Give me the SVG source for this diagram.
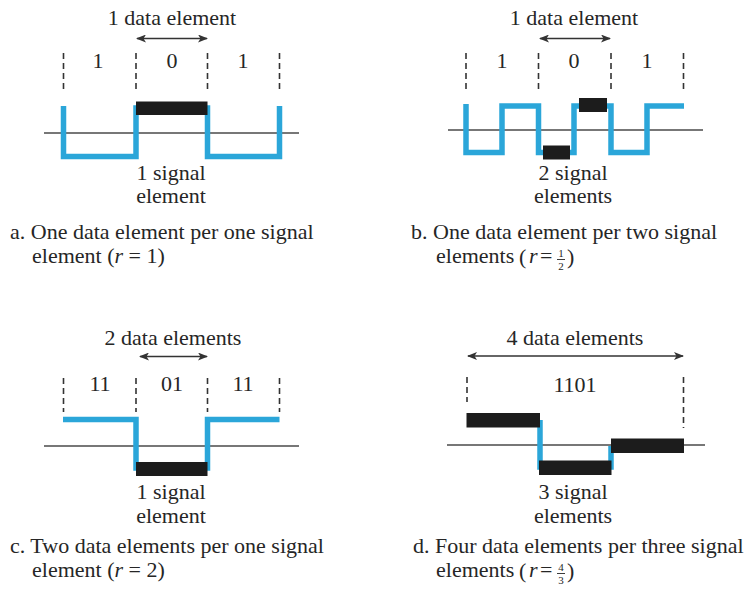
<svg xmlns="http://www.w3.org/2000/svg" width="751" height="595" viewBox="0 0 751 595">
<style>
text{font-family:"Liberation Serif","Times New Roman",serif;font-size:22px;fill:#262626}
.c{text-anchor:middle}
.fr{font-size:11px;text-anchor:middle}
.it{font-style:italic}
.axis{stroke:#4a4a4a;stroke-width:1.6;fill:none}
.dash{stroke:#333;stroke-width:1.6;stroke-dasharray:6 4;fill:none}
.sig{stroke:#2ba6d9;stroke-width:5.5;fill:none;stroke-linejoin:miter;stroke-linecap:butt}
.bar{fill:#1c1c1c}
.arr{stroke:#333;stroke-width:1.3;fill:none;marker-start:url(#ah);marker-end:url(#ah)}
.fb{stroke:#262626;stroke-width:0.9}
</style>
<defs>
<marker id="ah" viewBox="0 0 10 8" refX="9" refY="4" markerWidth="10" markerHeight="8" markerUnits="userSpaceOnUse" orient="auto-start-reverse">
<path d="M0,0 L10,4 L0,8 L2.5,4 Z" fill="#333"/>
</marker>
</defs>
<rect width="751" height="595" fill="#fff"/>

<g id="panel-a">
<text class="c" x="172" y="25">1 data element</text>
<text class="c" x="98" y="68">1</text>
<text class="c" x="172" y="68">0</text>
<text class="c" x="243" y="68">1</text>
<line class="axis" x1="44" y1="133" x2="299" y2="133"/>
<path class="sig" d="M63.5,106 V156.5 H136 V108 H207.5 V156.5 H279.5 V106"/>
<rect class="bar" x="136" y="101.5" width="71.5" height="13.5"/>
<text class="c" x="171" y="180">1 signal</text>
<text class="c" x="171" y="203">element</text>
<text x="10" y="239">a. One data element per one signal</text>
<text x="32" y="263">element (<tspan class="it">r</tspan> = 1)</text>
</g>

<g id="panel-b">
<text class="c" x="574" y="25">1 data element</text>
<text class="c" x="502" y="68">1</text>
<text class="c" x="574" y="68">0</text>
<text class="c" x="647" y="68">1</text>
<line class="axis" x1="448" y1="130" x2="703" y2="130"/>
<path class="sig" d="M466,104 V152.5 H502 V106 H538.5 V152.5 H574 V106 H611 V152.5 H647 V106 H684"/>
<rect class="bar" x="543" y="145.5" width="27" height="14"/>
<rect class="bar" x="579" y="98" width="28" height="14"/>
<text class="c" x="573" y="180">2 signal</text>
<text class="c" x="573" y="203">elements</text>
<text x="411" y="239">b. One data element per two signal</text>
<text x="436" y="263">elements</text>
<text x="519" y="264" font-size="24">(</text>
<text class="it" x="529" y="263">r</text>
<text x="540" y="263">=</text>
<text class="fr" x="561" y="256.5">1</text>
<line class="fb" x1="557" y1="259.5" x2="565" y2="259.5"/>
<text class="fr" x="561" y="269.5">2</text>
<text x="567" y="264" font-size="24">)</text>
</g>

<g id="panel-c">
<text class="c" x="173" y="345">2 data elements</text>
<text class="c" x="100" y="391">11</text>
<text class="c" x="172" y="391">01</text>
<text class="c" x="243" y="391">11</text>
<line class="axis" x1="44" y1="446" x2="299" y2="446"/>
<path class="sig" d="M63,419.5 H136 V468 H207.5 V419.5 H279.5"/>
<rect class="bar" x="136" y="462" width="71.5" height="14"/>
<text class="c" x="171" y="499">1 signal</text>
<text class="c" x="171" y="523">element</text>
<text x="10" y="553">c. Two data elements per one signal</text>
<text x="32" y="577">element (<tspan class="it">r</tspan> = 2)</text>
</g>

<g id="panel-d">
<text class="c" x="575" y="345">4 data elements</text>
<text class="c" x="575" y="392">1101</text>
<line class="axis" x1="447" y1="445" x2="705" y2="445"/>
<path class="sig" d="M540,420 V467 H611 V446"/>
<rect class="bar" x="466.5" y="413" width="73.5" height="14.5"/>
<rect class="bar" x="539" y="460.5" width="72.5" height="14.5"/>
<rect class="bar" x="611" y="438.5" width="73" height="14.5"/>
<text class="c" x="573" y="499">3 signal</text>
<text class="c" x="573" y="523">elements</text>
<text x="413" y="553">d. Four data elements per three signal</text>
<text x="436" y="577">elements</text>
<text x="519" y="578" font-size="24">(</text>
<text class="it" x="529" y="577">r</text>
<text x="540" y="577">=</text>
<text class="fr" x="561" y="570.5">4</text>
<line class="fb" x1="557" y1="573.5" x2="565" y2="573.5"/>
<text class="fr" x="561" y="583.5">3</text>
<text x="567" y="578" font-size="24">)</text>
</g>

<g id="connectors">
<line class="arr" x1="137" y1="38.5" x2="207" y2="38.5"/>
<line class="arr" x1="540" y1="38.5" x2="610" y2="38.5"/>
<line class="arr" x1="140" y1="356.5" x2="207" y2="356.5"/>
<line class="arr" x1="468" y1="356" x2="683" y2="356"/>
<line class="dash" x1="63.5" y1="53" x2="63.5" y2="90"/>
<line class="dash" x1="136" y1="53" x2="136" y2="90"/>
<line class="dash" x1="207.5" y1="53" x2="207.5" y2="90"/>
<line class="dash" x1="279.5" y1="53" x2="279.5" y2="90"/>
<line class="dash" x1="466" y1="53" x2="466" y2="90"/>
<line class="dash" x1="538.5" y1="53" x2="538.5" y2="90"/>
<line class="dash" x1="611" y1="53" x2="611" y2="90"/>
<line class="dash" x1="683.5" y1="53" x2="683.5" y2="90"/>
<line class="dash" x1="63.5" y1="378" x2="63.5" y2="412"/>
<line class="dash" x1="136" y1="378" x2="136" y2="412"/>
<line class="dash" x1="207.5" y1="378" x2="207.5" y2="412"/>
<line class="dash" x1="279.5" y1="378" x2="279.5" y2="412"/>
<line class="dash" x1="467" y1="377" x2="467" y2="402"/>
<line class="dash" x1="683.5" y1="377" x2="683.5" y2="428"/>
</g>
</svg>
